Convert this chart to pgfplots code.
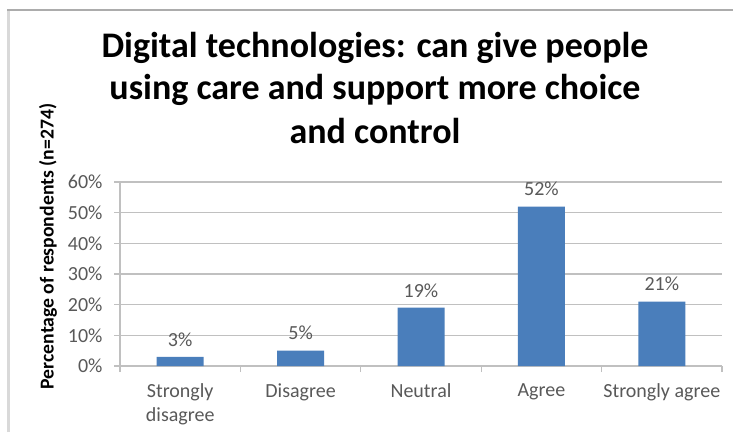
\documentclass[border=0pt]{standalone}
\usepackage{fontspec}
\setmainfont{Carlito}
\usepackage{pgfplots}
\pgfplotsset{compat=1.18}
\definecolor{barblue}{HTML}{4A7EBB}
\definecolor{txtgray}{HTML}{595959}
\definecolor{gridgray}{HTML}{C0C0C0}
\begin{document}
\begin{tikzpicture}[x=1pt,y=1pt]
\useasboundingbox (0,0) rectangle (733,432);
\fill[white] (0,0) rectangle (733,432);
\draw[line width=3pt, color=gray!30] (8.5,0) -- (8.5,421);
\draw[line width=1.5pt, color=gray!65] (7,422) -- (733,422);
\node[anchor=base, font=\fontsize{36}{41}\selectfont\bfseries] at (375,374) {Digital technologies: can give people};
\node[anchor=base, font=\fontsize{36}{41}\selectfont\bfseries] at (375,332) {using care and support more choice};
\node[anchor=base, font=\fontsize{36}{41}\selectfont\bfseries] at (375,289) {and control};
\node[rotate=90, font=\fontsize{19.7}{22}\selectfont\bfseries] at (48,185.5) {Percentage of respondents (n=274)};
\begin{axis}[
  at={(120pt,66pt)}, anchor=south west,
  scale only axis, width=602pt, height=184pt,
  xmin=-0.5, xmax=4.5, ymin=0, ymax=60,
  enlargelimits=false,
  axis x line*=bottom, axis y line*=left,
  axis line style={draw=gridgray, line width=1.5pt},
  ybar, bar width=47pt,
  ytick={0,10,...,60},
  yticklabel={\pgfmathprintnumber{\tick}\%},
  /pgf/number format/assume math mode=true,
  ymajorgrids, grid style={draw=gridgray, line width=1.5pt},
  tick align=outside, major tick length=6pt,
  ytick style={draw=gridgray, line width=1.2pt},
  xtick={0,1,2,3,4},
  xticklabels={{Strongly\\disagree},Disagree,Neutral,Agree,{Strongly agree}},
  xtick style={draw=none},
  extra x ticks={-0.5,0.5,1.5,2.5,3.5,4.5},
  extra x tick labels={},
  extra x tick style={xtick style={draw=gridgray, line width=1.2pt}, grid=none},
  xticklabel style={align=center, font=\fontsize{20}{24.5}\selectfont, text=txtgray, yshift=-8pt},
  yticklabel style={font=\fontsize{20}{24}\selectfont, text=txtgray, xshift=-8pt},
  nodes near coords={\pgfmathprintnumber{\pgfplotspointmeta}\%},
  nodes near coords style={font=\fontsize{20}{24}\selectfont, text=txtgray, yshift=7pt},
]
\addplot[fill=barblue, draw=none] coordinates {(0,3) (1,5) (2,19) (3,52) (4,21)};
\end{axis}
\end{tikzpicture}
\end{document}
